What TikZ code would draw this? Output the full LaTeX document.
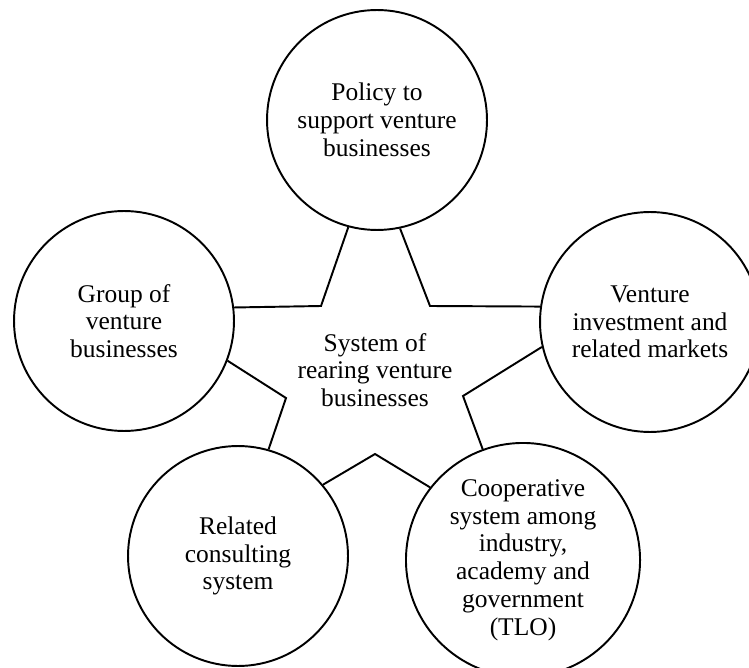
\documentclass[tikz,border=0pt]{standalone}
\usepackage{fontspec}
\setmainfont{Liberation Serif}
\begin{document}
\begin{tikzpicture}[x=0.02cm,y=-0.02cm,
                    line width=1.1pt,
                    area node/.style={circle,draw,minimum size=4.4cm,align=center,
                                      font=\fontsize{14.5}{15.8}\selectfont},
                    core node/.style={align=center,font=\fontsize{14.5}{15.8}\selectfont}]
        \useasboundingbox (0,0) rectangle (749,668);

        % Define vertices
        \node[area node] (policy) at (377,120) {Policy to\\support venture\\businesses};
        \node[area node] (group) at (124,321) {Group of\\venture\\businesses};
        \node[area node] (market) at (650,322) {Venture\\investment and\\related markets};
        \node[area node] (consult) at (238,556) {Related\\consulting\\system};
        \node[area node] (coop) at (523,560) {Cooperative\\system among\\industry,\\academy and\\government\\(TLO)};
        \node[core node] (core) at (375,370) {System of\\rearing venture\\businesses};

        % Inner corners of the star
        \coordinate (ul) at (321,306);
        \coordinate (ur) at (430,306);
        \coordinate (ll) at (286,398);
        \coordinate (lr) at (463,396);
        \coordinate (lo) at (375,454);

        % Star edges
        \draw (policy.255) -- (ul) -- (group.7);
        \draw (policy.282) -- (ur) -- (market.172);
        \draw (group.339) -- (ll) -- (consult.74);
        \draw (market.193) -- (lr) -- (coop.110);
        \draw (consult.40) -- (lo) -- (coop.142);
\end{tikzpicture}
\end{document}
